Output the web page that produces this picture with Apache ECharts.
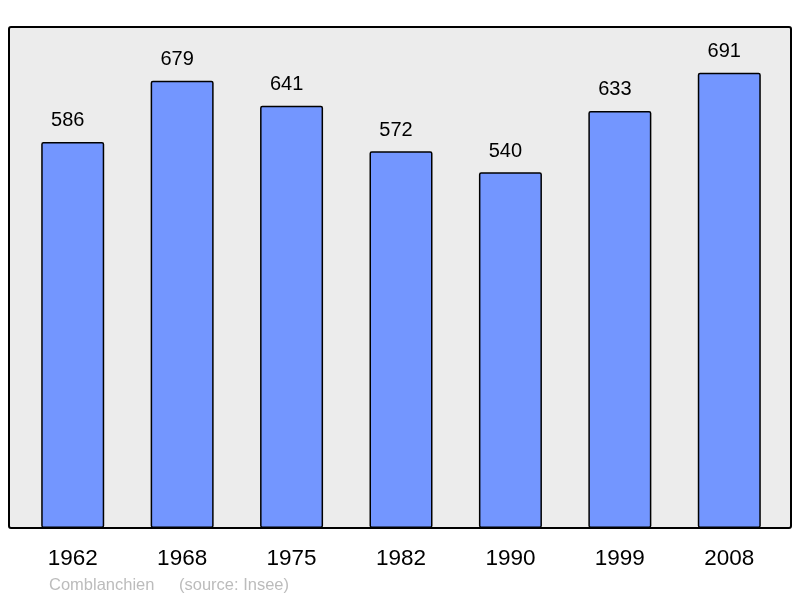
<!DOCTYPE html>
<html>
<head>
<meta charset="utf-8">
<script src="https://cdn.jsdelivr.net/npm/echarts@6/dist/echarts.min.js"></script>
<style>html,body{margin:0;padding:0;background:#fff;}#c{width:800px;height:598px;}</style>
</head>
<body>
<div id="c"></div>
<script>
const years = ['1962', '1968', '1975', '1982', '1990', '1999', '2008'];
const population = [586, 679, 641, 572, 540, 633, 691];
const placeText = 'Comblanchien';
const sourceText = '(source: Insee)';

const chart = echarts.init(document.getElementById('c'), null, {renderer: 'canvas'});
chart.setOption({
  animation: false,
  backgroundColor: '#ffffff',
  graphic: [
    {
      type: 'rect', z: -10,
      shape: {x: 9, y: 27, width: 782, height: 501, r: 2},
      style: {fill: '#ececec', stroke: '#000', lineWidth: 2}
    },
    {
      type: 'text', left: 49, top: 577,
      style: {text: placeText, fill: '#bcbcbc', font: '16.5px "Liberation Sans", Arial, sans-serif'}
    },
    {
      type: 'text', left: 179, top: 577,
      style: {text: sourceText, fill: '#bcbcbc', font: '16.5px "Liberation Sans", Arial, sans-serif'}
    }
  ],
  grid: {left: 18, right: 16, top: 26, bottom: 70},
  xAxis: {
    type: 'category', data: years,
    axisLine: {show: false}, axisTick: {show: false},
    axisLabel: {color: '#000', fontSize: 22.5, fontFamily: '"Liberation Sans", Arial, sans-serif', margin: 19}
  },
  yAxis: {
    type: 'value', min: 0, max: 762, show: false,
    splitLine: {show: false}
  },
  series: [{
    type: 'bar', data: population, barWidth: 63,
    itemStyle: {color: '#7396ff', borderColor: '#000', borderWidth: 1.5, borderRadius: 1.5},
    label: {show: true, position: 'top', distance: 11, offset: [-5, 0], color: '#000', fontSize: 20,
      fontFamily: '"Liberation Sans", Arial, sans-serif'}
  }]
});
</script>
</body>
</html>
